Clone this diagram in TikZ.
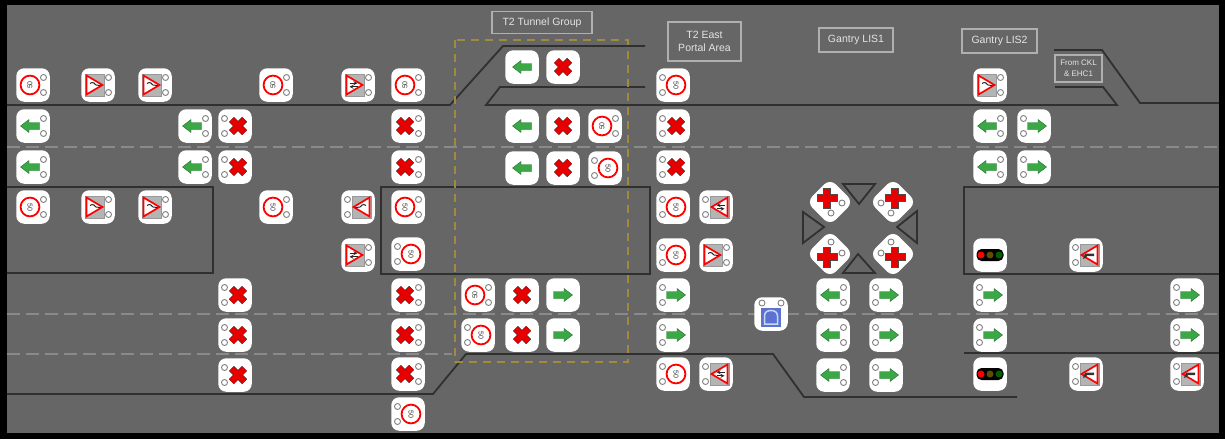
\documentclass[tikz,border=0pt]{standalone}
\usepackage{fontspec}
\setmainfont{Liberation Sans}
\definecolor{roadbg}{HTML}{666666}
\definecolor{roadln}{HTML}{303030}
\definecolor{dashln}{HTML}{8A8A8A}
\definecolor{goldln}{HTML}{A08A3E}
\definecolor{lblln}{HTML}{B0B0B0}
\definecolor{lbltx}{HTML}{E4E4E4}
\definecolor{grn}{HTML}{39A845}
\definecolor{grnd}{HTML}{2E6B36}
\definecolor{redx}{HTML}{E60000}
\definecolor{signg}{HTML}{B4B4B4}
\definecolor{bluesq}{HTML}{5B72D2}
\definecolor{bluept}{HTML}{CBD6F2}
\definecolor{amberoff}{HTML}{5A5000}
\definecolor{greenoff}{HTML}{006000}
\tikzset{
  road/.style={draw=roadln,line width=1.8pt,line join=miter},
  lane/.style={draw=dashln,line width=1.2pt,dash pattern=on 13pt off 6pt},
  goldbox/.style={draw=goldln,line width=1.1pt,dash pattern=on 8pt off 6pt},
  pbox/.style={fill=white,draw=none,rounded corners=8pt,minimum width=33.5pt,minimum height=33.5pt,inner sep=0pt,outer sep=0pt},
  lbl/.style={draw=lblln,line width=1.1pt,text=lbltx,font=\fontsize{10.5pt}{13.5pt}\selectfont,align=center,inner sep=0pt,outer sep=0pt},
  lmp/.style={fill=white,draw=gray,line width=.9pt},
  sgnarrow/.style={fill=grn,draw=grnd,line width=.4pt},
  sgnx/.style={draw=black,line width=7pt},
  sgnxin/.style={draw=redx,line width=6.2pt},
  marker/.style={fill=roadbg,draw=roadln,line width=1.8pt,line join=miter},
  numtxt/.style={font=\fontsize{7pt}{7pt}\selectfont,inner sep=0pt,text=black!80},
  crossbar/.style={fill=redx,draw=black!70,line width=.4pt},
}
\newcommand{\lmpr}[2]{\draw[lmp] (#1+10.5,#2-7.5) circle (3); \draw[lmp] (#1+10.5,#2+7.5) circle (3);}
\newcommand{\lmpl}[2]{\draw[lmp] (#1-10.5,#2-7.5) circle (3); \draw[lmp] (#1-10.5,#2+7.5) circle (3);}
\newcommand{\pnl}[2]{\node[pbox] (p#1-#2) at (#1,#2) {};}
\newcommand{\arrL}[3]{\begin{scope}[shift={(#1+#3,#2)}]\path[sgnarrow] (-9.5,0)--(-1,-6.5)--(-1,-3.5)--(9.5,-3.5)--(9.5,3.5)--(-1,3.5)--(-1,6.5)--cycle;\end{scope}}
\newcommand{\arrR}[3]{\begin{scope}[shift={(#1+#3,#2)}]\path[sgnarrow] (9.5,0)--(1,-6.5)--(1,-3.5)--(-9.5,-3.5)--(-9.5,3.5)--(1,3.5)--(1,6.5)--cycle;\end{scope}}
\newcommand{\xsg}[3]{\begin{scope}[shift={(#1+#3,#2)}]
 \draw[sgnx] (-6.5,-6.5)--(6.5,6.5) (-6.5,6.5)--(6.5,-6.5);
 \draw[sgnxin] (-6.5,-6.5)--(6.5,6.5) (-6.5,6.5)--(6.5,-6.5);\end{scope}}
\newcommand{\ALn}[2]{\pnl{#1}{#2}\arrL{#1}{#2}{0}}
\newcommand{\ALr}[2]{\pnl{#1}{#2}\arrL{#1}{#2}{-3}\lmpr{#1}{#2}}
\newcommand{\ARn}[2]{\pnl{#1}{#2}\arrR{#1}{#2}{0}}
\newcommand{\ARl}[2]{\pnl{#1}{#2}\arrR{#1}{#2}{3}\lmpl{#1}{#2}}
\newcommand{\Xn}[2]{\pnl{#1}{#2}\xsg{#1}{#2}{0}}
\newcommand{\Xr}[2]{\pnl{#1}{#2}\xsg{#1}{#2}{-3}\lmpr{#1}{#2}}
\newcommand{\Xl}[2]{\pnl{#1}{#2}\xsg{#1}{#2}{3}\lmpl{#1}{#2}}
\newcommand{\spd}[4]{\draw[draw=red,fill=white,line width=1.8pt] (#1+#3,#2) circle (9.4);
  \node[numtxt,rotate=#4] (t#1-#2) at (#1+#3,#2) {50};}
\newcommand{\Sr}[3]{\pnl{#1}{#2}\spd{#1}{#2}{-3}{#3}\lmpr{#1}{#2}}
\newcommand{\Sl}[3]{\pnl{#1}{#2}\spd{#1}{#2}{3}{#3}\lmpl{#1}{#2}}
\newcommand{\glyphC}{\draw[black!85,line width=1pt] (-8,-1.5) .. controls (-5,-4) and (-3,-1) .. (-2,0) .. controls (-1,1.5) and (1,-1) .. (2.5,.5);}
\newcommand{\glyphT}{\draw[black!85,line width=.8pt,-stealth] (-8.5,-1.8)--(-.5,-1.8); \draw[black!85,line width=.8pt,stealth-] (-8.5,1.8)--(-.5,1.8);}
\newcommand{\glyphM}{\path[fill=black!80] (-8,-1.5)--(1,-1.5)--(3,4)--(0,2.5)--(-1,1)--(-8,1)--cycle;}
\newcommand{\tri}[4]{\begin{scope}[shift={(#1,#2)},xscale=#3]
  \path[fill=signg,draw=gray!80,line width=.6pt] (-13,-11) rectangle (6,11);
  \path[fill=white,draw=red,line width=1.7pt,line join=miter] (-11.5,-9.5)--(4.5,0)--(-11.5,9.5)--cycle;
  #4\end{scope}}
\newcommand{\Tr}[3]{\pnl{#1}{#2}\tri{#1}{#2}{1}{#3}\lmpr{#1}{#2}}
\newcommand{\Tl}[3]{\pnl{#1}{#2}\tri{#1}{#2}{-1}{#3}\lmpl{#1}{#2}}
\newcommand{\TL}[2]{\pnl{#1}{#2}\begin{scope}[shift={(#1,#2)}]
  \path[fill=black,rounded corners=5pt] (-13.5,-6) rectangle (13.5,6);
  \path[fill=red] (-9,0) circle (3.5); \path[fill=amberoff] (0,0) circle (3.5); \path[fill=greenoff] (9,0) circle (3.5);\end{scope}}
\newcommand{\CR}[5]{%
  \node[pbox,rotate=45,minimum width=33pt,minimum height=33pt,rounded corners=8pt] (#1) at (#2,#3) {};
  \path[crossbar] (#4-10,#5-3.5)--(#4-3.5,#5-3.5)--(#4-3.5,#5-10)--(#4+3.5,#5-10)--(#4+3.5,#5-3.5)--(#4+10,#5-3.5)--(#4+10,#5+3.5)--(#4+3.5,#5+3.5)--(#4+3.5,#5+10)--(#4-3.5,#5+10)--(#4-3.5,#5+3.5)--(#4-10,#5+3.5)--cycle;
}
\begin{document}
\begin{tikzpicture}[x=1pt,y=-1pt]
\useasboundingbox (0,0) rectangle (1225,439);
\fill[black] (0,0) rectangle (1225,439);
\fill[roadbg] (7,5) rectangle (1219,433);
\draw[lane] (7,147)--(1219,147);
\draw[lane] (7,314)--(1219,314);
\draw[lane] (7,354)--(452,354);
\coordinate (ra0) at (7,105); \coordinate (ra1) at (450,105); \coordinate (ra2) at (503,46); \coordinate (ra3) at (645,46);
\draw[road] (ra0)--(ra1)--(ra2)--(ra3);
\coordinate (rb0) at (645,87); \coordinate (rb1) at (500,87); \coordinate (rb2) at (486,105); \coordinate (rb3) at (1117,105); \coordinate (rb4) at (1103,87); \coordinate (rb5) at (1055,87);
\draw[road] (rb0)--(rb1)--(rb2)--(rb3)--(rb4)--(rb5);
\coordinate (rc0) at (1054,50); \coordinate (rc1) at (1102,50); \coordinate (rc2) at (1140,103); \coordinate (rc3) at (1219,103);
\draw[road] (rc0)--(rc1)--(rc2)--(rc3);
\coordinate (rd0) at (7,187); \coordinate (rd1) at (213,187); \coordinate (rd2) at (213,273); \coordinate (rd3) at (7,273);
\draw[road] (rd0)--(rd1)--(rd2)--(rd3);
\coordinate (re0) at (381,187); \coordinate (re1) at (650,187); \coordinate (re2) at (650,274); \coordinate (re3) at (381,274);
\draw[road] (re0)--(re1)--(re2)--(re3)--cycle;
\coordinate (rf0) at (1219,187); \coordinate (rf1) at (964,187); \coordinate (rf2) at (964,274); \coordinate (rf3) at (1219,274);
\draw[road] (rf0)--(rf1)--(rf2)--(rf3);
\coordinate (rg0) at (7,394); \coordinate (rg1) at (433,394); \coordinate (rg2) at (466,354); \coordinate (rg3) at (773,354); \coordinate (rg4) at (804,397); \coordinate (rg5) at (1017,397);
\draw[road] (rg0)--(rg1)--(rg2)--(rg3)--(rg4)--(rg5);
\coordinate (rh0) at (964,353); \coordinate (rh1) at (1219,353);
\draw[road] (rh0)--(rh1);
\draw[goldbox] (455,40) rectangle (628,362);
\node[lbl,minimum width=100pt,minimum height=22pt] (l1) at (542,22.5) {T2 Tunnel Group};
\node[lbl,minimum width=73pt,minimum height=39pt] (l2) at (704.5,41.5) {T2 East\\Portal Area};
\node[lbl,minimum width=74pt,minimum height=24pt] (l3) at (856,40) {Gantry LIS1};
\node[lbl,minimum width=75pt,minimum height=24pt] (l4) at (999.5,41) {Gantry LIS2};
\node[lbl,minimum width=47pt,minimum height=27pt,font=\fontsize{8pt}{11pt}\selectfont] (l5) at (1078.5,68.5) {From CKL\\\& EHC1};
\Sr{33}{85}{90} \ALr{33}{126} \ALr{33}{167} \Sr{33}{207}{-90}
\Tr{98}{85}{\glyphC} \Tr{155}{85}{\glyphC} \Tr{98}{207}{\glyphC} \Tr{155}{207}{\glyphC}
\ALr{195}{126} \ALr{195}{167} \Xl{235}{126} \Xl{235}{167}
\Sr{276}{85}{90} \Sr{276}{207}{-90}
\Xl{235}{295} \Xl{235}{335} \Xl{235}{375}
\Tr{358}{85}{\glyphT} \Tl{358}{207}{\glyphC} \Tr{358}{255}{\glyphT}
\Sr{408}{85}{90} \Xr{408}{126} \Xr{408}{167} \Sr{408}{207}{-90} \Sl{408}{254}{-90}
\Xr{408}{295} \Xr{408}{335} \Xr{408}{374} \Sl{408}{414}{-90}
\ALn{522}{67} \Xn{563}{67}
\ALn{522}{126} \Xn{563}{126} \Sr{605}{126}{90}
\ALn{522}{168} \Xn{563}{168} \Sl{605}{168}{-90}
\Sr{478}{295}{90} \Xn{522}{295} \ARn{563}{295}
\Sl{478}{335}{-90} \Xn{522}{335} \ARn{563}{335}
\Sl{673}{85}{-90} \Xl{673}{126} \Xl{673}{167} \Sl{673}{207}{-90} \Sl{673}{255}{-90}
\ARl{673}{295} \ARl{673}{335} \Sl{673}{374}{-90}
\Tl{716}{207}{\glyphT} \Tr{716}{255}{\glyphC} \Tl{716}{374}{\glyphT}
\pnl{771}{314}
\begin{scope}[shift={(771,317)}]
 \fill[bluesq] (-10,-9.5) rectangle (10,9.5);
 \path[fill=bluesq,draw=bluept,line width=1.5pt] (-6.5,7)--(-6.5,-1) .. controls (-6.5,-5) and (-3.5,-6.5) .. (0,-6.5) .. controls (3.5,-6.5) and (6.5,-5) .. (6.5,-1)--(6.5,7)--cycle;
\end{scope}
\draw[lmp] (762,303) circle (3); \draw[lmp] (781,303) circle (3);
\ALr{833}{295} \ALr{833}{335} \ALr{833}{375}
\ARl{886}{295} \ARl{886}{335} \ARl{886}{375}
\CR{c1}{830}{202}{827}{198}
\CR{c2}{893}{202}{895}{198}
\CR{c3}{830}{254}{827}{257}
\CR{c4}{893}{254}{895}{257}
\draw[lmp] (842,203) circle (3); \draw[lmp] (831,213) circle (3);
\draw[lmp] (881,203) circle (3); \draw[lmp] (891,213) circle (3);
\draw[lmp] (831,242) circle (3); \draw[lmp] (842,253) circle (3);
\draw[lmp] (891,242) circle (3); \draw[lmp] (881,253) circle (3);
\path[marker] (843,184)--(875,184)--(859,204)--cycle;
\path[marker] (843,273)--(875,273)--(858,254)--cycle;
\path[marker] (803,212)--(803,243)--(824,227)--cycle;
\path[marker] (917,211)--(917,243)--(897,227)--cycle;
\Tr{990}{85}{\glyphC}
\ALr{990}{126} \ALr{990}{167} \ARl{1034}{126} \ARl{1034}{167}
\TL{990}{255} \TL{990}{374}
\ARl{990}{295} \ARl{990}{335}
\ARl{1187}{295} \ARl{1187}{335}
\Tl{1086}{255}{\glyphM} \Tl{1086}{374}{\glyphM} \Tl{1187}{374}{\glyphM}
\end{tikzpicture}
\end{document}
